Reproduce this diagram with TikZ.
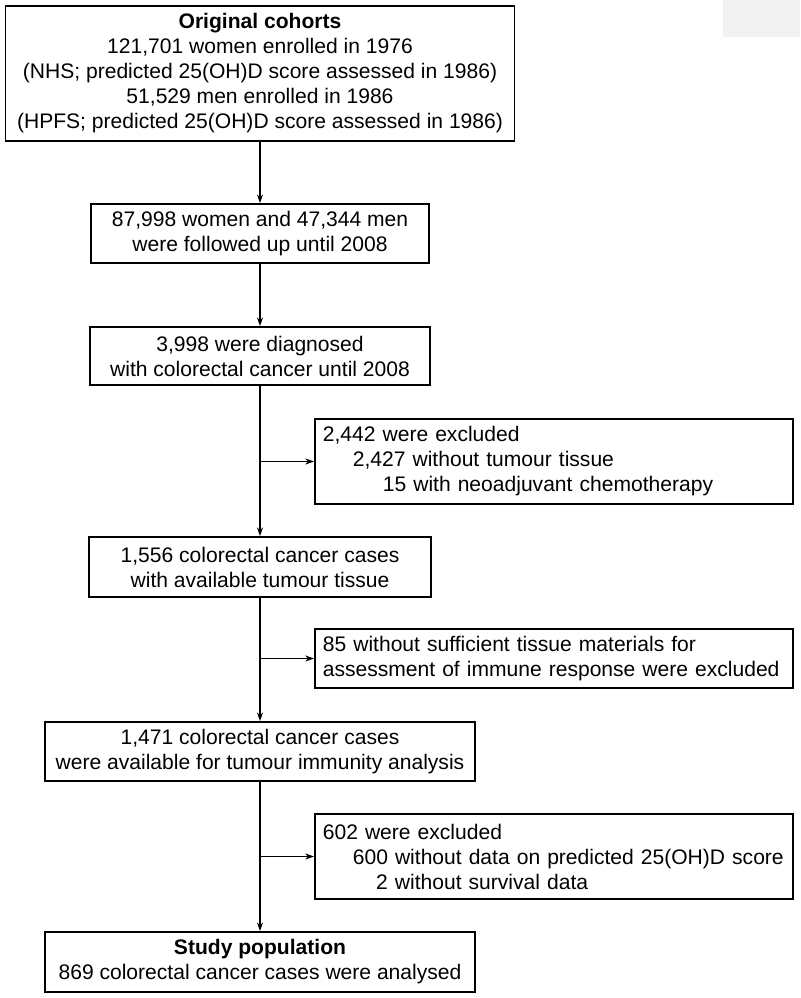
\documentclass[tikz,border=0pt]{standalone}
\usepackage{fontspec}
\setmainfont{Liberation Sans}
\usetikzlibrary{arrows.meta}
\newcommand{\fsz}{\fontsize{15.8pt}{18.75pt}\selectfont}
\begin{document}
\begin{tikzpicture}[x=0.75pt,y=-0.75pt,
  box/.style={draw, line width=1.3pt, inner sep=0pt, align=center, font=\fsz},
  sidebox/.style={draw, line width=1.3pt, inner xsep=6pt, inner ysep=0pt, align=left,
     text width=346.5pt, anchor=west, font=\fsz},
  arr/.style={line width=1.2pt, -{Stealth[length=6.5pt,width=4.5pt]}}]
\useasboundingbox (0,0) rectangle (800,998);
\fill[black!5] (723,0) rectangle (800,37);

\node[box, minimum width=381.75pt, minimum height=101.25pt] (top) at (260,73.5)
  {\textbf{Original cohorts}\\121,701 women enrolled in 1976\\(NHS; predicted 25(OH)D score assessed in 1986)\\51,529 men enrolled in 1986\\(HPFS; predicted 25(OH)D score assessed in 1986)};
\node[box, minimum width=253.5pt, minimum height=44.25pt] (b2) at (260,233.5)
  {87,998 women and 47,344 men\\were followed up until 2008};
\node[box, minimum width=255pt, minimum height=43.5pt] (b3) at (260,356)
  {3,998 were diagnosed\\with colorectal cancer until 2008};
\node[box, minimum width=256.5pt, minimum height=45pt] (b4) at (260,567)
  {1,556 colorectal cancer cases\\with available tumour tissue};
\node[box, minimum width=322.5pt, minimum height=44.25pt] (b5) at (260,751.5)
  {1,471 colorectal cancer cases\\were available for tumour immunity analysis};
\node[box, minimum width=322.5pt, minimum height=45pt] (b6) at (260,962)
  {\textbf{Study population}\\869 colorectal cancer cases were analysed};

\node[sidebox, minimum height=63.75pt] (s1) at (314,461.5)
  {2,442 were excluded\\\hspace*{22.5pt}2,427 without tumour tissue\\\hspace*{45pt}15 with neoadjuvant chemotherapy};
\node[sidebox, minimum height=44.25pt] (s2) at (314,658.5)
  {85 without sufficient tissue materials for\\assessment of immune response were excluded};
\node[sidebox, minimum height=63.75pt] (s3) at (314,856.5)
  {602 were excluded\\\hspace*{22.5pt}600 without data on predicted 25(OH)D score\\\hspace*{40pt}2 without survival data};

\draw[arr] (top.south) -- (b2.north);
\draw[arr] (b2.south) -- (b3.north);
\draw[arr] (b3.south) -- (b4.north);
\draw[arr] (b4.south) -- (b5.north);
\draw[arr] (b5.south) -- (b6.north);
\draw[arr] (b3.south |- s1.west) -- (s1.west);
\draw[arr] (b4.south |- s2.west) -- (s2.west);
\draw[arr] (b5.south |- s3.west) -- (s3.west);
\end{tikzpicture}
\end{document}
